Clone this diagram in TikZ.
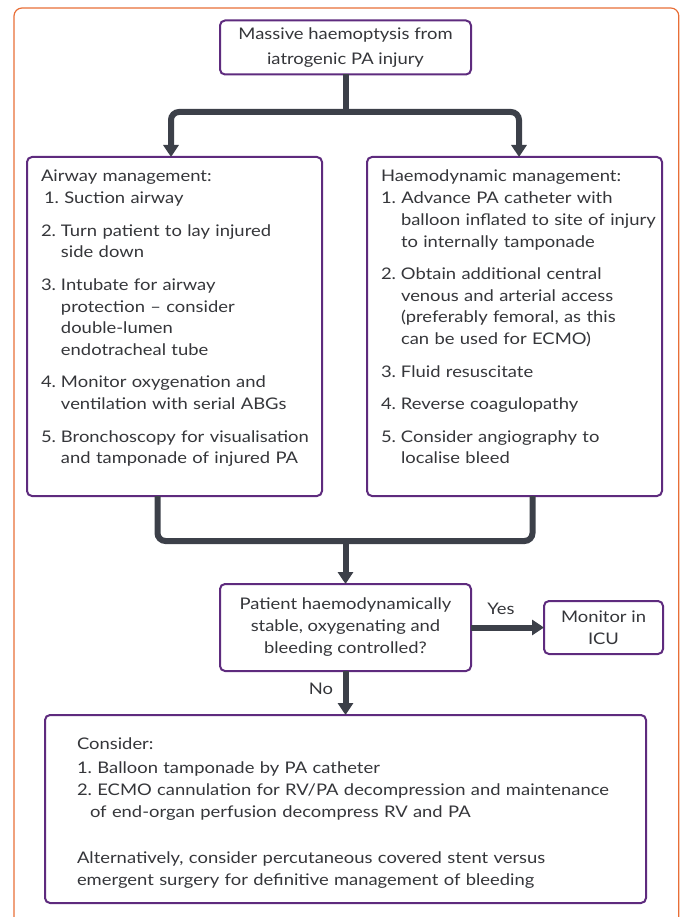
\documentclass[tikz,border=0pt]{standalone}
\usepackage{fontspec}
\setmainfont{Lato}[FakeStretch=1.15]
\usetikzlibrary{arrows.meta}
\definecolor{frameor}{HTML}{E86E37}
\definecolor{boxpurple}{HTML}{5E2B7E}
\definecolor{conncol}{HTML}{3C4049}
\definecolor{txtcol}{HTML}{35363A}
\newcommand\lnum[2]{\makebox[#1][l]{#2}}
\frenchspacing
\begin{document}
\begin{tikzpicture}[x=1pt,y=-1pt,
  every node/.style={text=txtcol, outer sep=0pt},
  box/.style={draw=boxpurple, line width=2pt, rounded corners=5pt, fill=white},
  listbox/.style={box, anchor=north west, align=left, inner ysep=0pt,
    font=\fontsize{16}{21.7}\selectfont\frenchspacing},
  ctrbox/.style={box, align=center, inner sep=0pt,
    font=\fontsize{16}{22}\selectfont},
  conn/.style={draw=conncol, line width=6pt, rounded corners=8pt},
  tip/.style={-{Triangle[width=15pt,length=12pt]}},
  lbl/.style={font=\fontsize{16}{18}\selectfont, inner sep=0pt}
]
\useasboundingbox (0,0) rectangle (680,917);
\draw[frameor, line width=1.2pt, rounded corners=8pt] (14,8) rectangle (678.8,940);

% top box
\node[ctrbox, minimum width=251pt, minimum height=54pt] (T) at (345.5,47.5)
  {Massive haemoptysis from\\[3pt]iatrogenic PA injury};

% left box
\node[listbox, text width=267pt, inner xsep=14pt, text height=25pt, text depth=314pt] (L) at (27,157) {%
\mbox{Airway management:}\\
\hspace*{3pt}\mbox{1. Suction airway}\\[10.8pt]
\lnum{20pt}{2.}\mbox{Turn patient to lay injured}\\
\hspace*{20pt}\mbox{side down}\\[10.8pt]
\lnum{20pt}{3.}\mbox{Intubate for airway}\\
\hspace*{20pt}\mbox{protection -- consider}\\
\hspace*{20pt}\mbox{double-lumen}\\
\hspace*{20pt}\mbox{endotracheal tube}\\[10.8pt]
\lnum{20pt}{4.}\mbox{Monitor oxygenation and}\\
\hspace*{20pt}\mbox{ventilation with serial ABGs}\\[10.8pt]
\lnum{20pt}{5.}\mbox{Bronchoscopy for visualisation}\\
\hspace*{20pt}\mbox{and tamponade of injured PA}};

% right box
\node[listbox, text width=267pt, inner xsep=14pt, text height=25pt, text depth=314pt] (R) at (367,157) {%
\mbox{Haemodynamic management:}\\
\mbox{1. Advance PA catheter with}\\
\hspace*{20pt}\mbox{balloon inflated to site of injury}\\
\hspace*{20pt}\mbox{to internally tamponade}\\[10.8pt]
\lnum{20pt}{2.}\mbox{Obtain additional central}\\
\hspace*{20pt}\mbox{venous and arterial access}\\
\hspace*{20pt}\mbox{(preferably femoral, as this}\\
\hspace*{20pt}\mbox{can be used for ECMO)}\\[10.8pt]
\lnum{20pt}{3.}\mbox{Fluid resuscitate}\\[10.8pt]
\lnum{20pt}{4.}\mbox{Reverse coagulopathy}\\[10.8pt]
\lnum{20pt}{5.}\mbox{Consider angiography to}\\
\hspace*{20pt}\mbox{localise bleed}};

% decision
\node[ctrbox, minimum width=251pt, minimum height=87pt] (D) at (345.5,627.5)
  {Patient haemodynamically\\stable, oxygenating and\\bleeding controlled?};

% monitor
\node[ctrbox, minimum width=119pt, minimum height=53pt] (M) at (603.5,627.5)
  {Monitor in\\ICU};

% bottom box
\node[listbox, text width=537pt, inner xsep=32pt, text height=34.5pt, text depth=153.5pt,
  font=\fontsize{16}{22}\selectfont\frenchspacing] (B) at (45,715) {%
\mbox{Consider:}\\[2pt]
\mbox{1. Balloon tamponade by PA catheter}\\
\mbox{2. ECMO cannulation for RV/PA decompression and maintenance}\\
\hspace*{13pt}\mbox{of end-organ perfusion decompress RV and PA}\\[24pt]
\mbox{Alternatively, consider percutaneous covered stent versus}\\
\mbox{emergent surgery for definitive management of bleeding}};

% connectors
\draw[conn, {Triangle[width=15pt,length=12pt]}-{Triangle[width=15pt,length=12pt]}]
  ([xshift=-3.5pt]L.north) -- ++(0,-45) coordinate (tjl) -| ([xshift=4.5pt]R.north);
\draw[conn, rounded corners=0pt] (T.south) -- (T.south |- tjl);

\draw[conn] ([xshift=-17pt]L.south) -- ++(0,45) coordinate (mjl) -| ([xshift=18pt]R.south);
\draw[conn, tip, rounded corners=0pt] (D.north |- mjl) -- (D.north);

\draw[conn, tip] (D.east) -- (M.west);
\draw[conn, tip] (D.south) -- (B.north);

\node[lbl, anchor=base] (yes) at (501,614) {Yes};
\node[lbl, anchor=base] (no) at (321,694) {No};
\end{tikzpicture}
\end{document}
